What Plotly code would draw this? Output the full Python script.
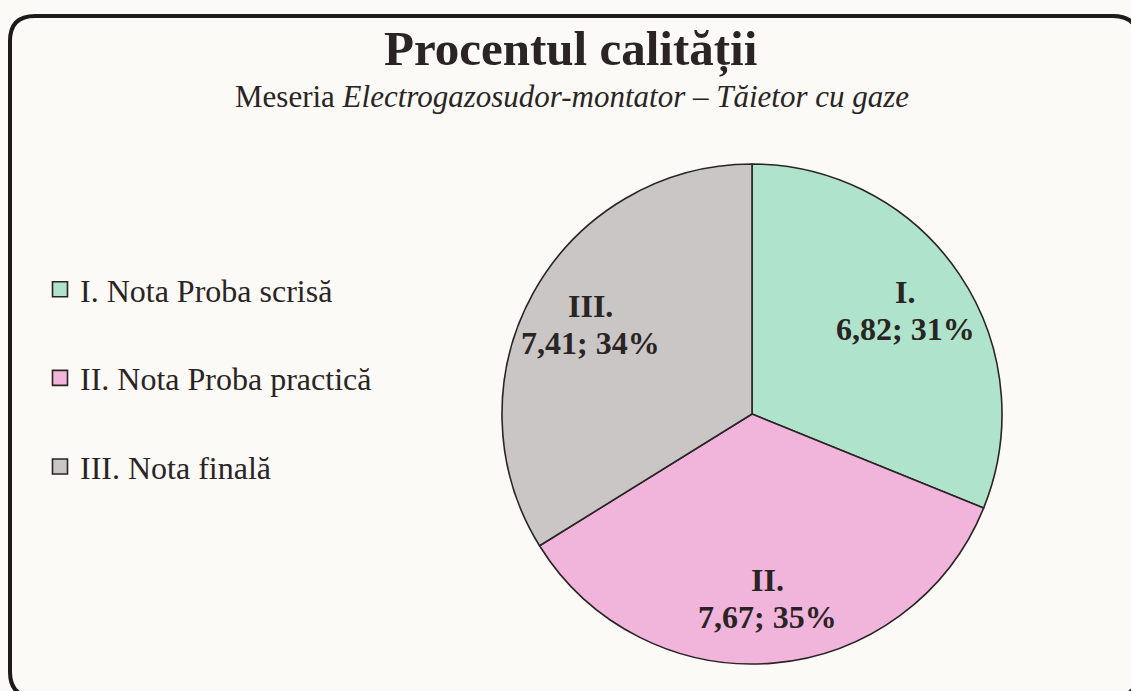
import math
import plotly.graph_objects as go

# ---- data ----
labels = ["I. Nota Proba scrisă", "II. Nota Proba practică", "III. Nota finală"]
short_labels = ["I.", "II.", "III."]
values = [6.82, 7.67, 7.41]
colors = ["#afe3cb", "#f1b5dc", "#cac6c6"]

title_text = "Procentul calității"
subtitle_text = "Meseria <i>Electrogazosudor-montator – Tăietor cu gaze</i>"

W, H = 1131, 691
FONT = "Liberation Serif, Times New Roman, serif"
INK = "#2a2424"
BG = "#fbfaf7"

def px(x):
    return x / W

def py(y):
    return 1 - y / H

# pie geometry (pixels)
cx, cy, R = 752, 414, 250
dom_x = [px(cx - R), px(cx + R)]
dom_y = [py(cy + R), py(cy - R)]

fig = go.Figure()
fig.add_trace(go.Pie(
    labels=labels, values=values, sort=False, direction="clockwise", rotation=0,
    marker=dict(colors=colors, line=dict(color=INK, width=1.6)),
    textinfo="none", hoverinfo="label+value+percent", showlegend=False,
    domain=dict(x=dom_x, y=dom_y),
))

# legend entries
for i, (lab, col) in enumerate(zip(labels, colors)):
    fig.add_trace(go.Scatter(
        x=[None], y=[None], mode="markers", name=lab, legendgroup=f"g{i}",
        marker=dict(symbol="square", size=15, color=col, line=dict(color=INK, width=1.6)),
    ))

# slice labels placed along mid-angle of each slice (computed from values)
total = sum(values)
annotations = []
cum = 0.0
for lab, v in zip(short_labels, values):
    frac = v / total
    mid = (cum + frac / 2) * 2 * math.pi
    cum += frac
    r = 0.74 * R
    lx = cx + r * math.sin(mid)
    ly = cy - r * math.cos(mid)
    lines = [f"<b>{lab}</b>", f"<b>{str(v).replace('.', ',')}; {round(frac * 100)}%</b>"]
    for k, line in enumerate(lines):
        annotations.append(dict(
            x=px(lx), y=py(ly + (k - 0.5) * 37), xref="paper", yref="paper",
            text=line, showarrow=False,
            font=dict(family=FONT, size=32, color=INK),
            xanchor="center", yanchor="middle",
        ))

annotations.append(dict(
    x=px(570), y=py(49), xref="paper", yref="paper", text=f"<b>{title_text}</b>",
    showarrow=False, font=dict(family=FONT, size=49, color=INK),
    xanchor="center", yanchor="middle",
))
annotations.append(dict(
    x=px(572), y=py(97), xref="paper", yref="paper", text=subtitle_text,
    showarrow=False, font=dict(family=FONT, size=31, color=INK),
    xanchor="center", yanchor="middle",
))

# rounded frame
x0, y0, x1, y1, rr = 10, 16, 1138, 697, 25
path = (
    f"M {px(x0 + rr)},{py(y0)} L {px(x1 - rr)},{py(y0)} "
    f"Q {px(x1)},{py(y0)} {px(x1)},{py(y0 + rr)} "
    f"L {px(x1)},{py(y1 - rr)} Q {px(x1)},{py(y1)} {px(x1 - rr)},{py(y1)} "
    f"L {px(x0 + rr)},{py(y1)} Q {px(x0)},{py(y1)} {px(x0)},{py(y1 - rr)} "
    f"L {px(x0)},{py(y0 + rr)} Q {px(x0)},{py(y0)} {px(x0 + rr)},{py(y0)} Z"
)

fig.update_layout(
    width=W, height=H,
    margin=dict(l=0, r=0, t=0, b=0),
    paper_bgcolor=BG, plot_bgcolor="rgba(0,0,0,0)",
    xaxis=dict(visible=False), yaxis=dict(visible=False),
    shapes=[dict(type="path", path=path, xref="paper", yref="paper",
                 line=dict(color="#1e1a1a", width=4), layer="below")],
    annotations=annotations,
    showlegend=True,
    legend=dict(x=px(40), y=py(262), xanchor="left", yanchor="top",
                font=dict(family=FONT, size=32, color=INK),
                bgcolor="rgba(0,0,0,0)", tracegroupgap=44, itemsizing="trace"),
)

fig.write_html(
    "out.html",
    config={"displayModeBar": False},
    post_script=f"document.body.style.margin='0';document.body.style.background='{BG}';"
                "document.body.style.overflow='hidden';",
)
